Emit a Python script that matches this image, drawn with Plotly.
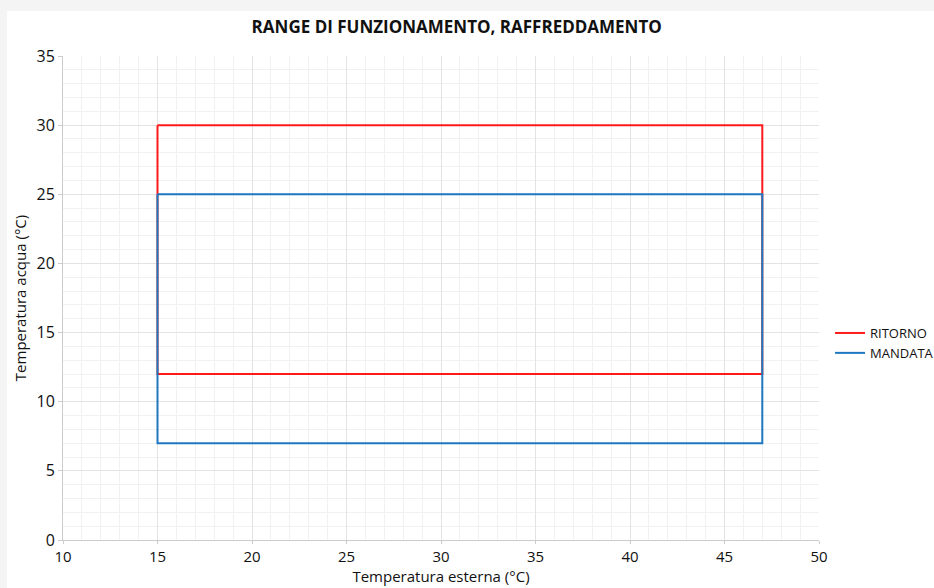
import plotly.graph_objects as go

# Data
ritorno_x = [15, 47, 47, 15, 15]
ritorno_y = [30, 30, 12, 12, 30]
mandata_x = [15, 47, 47, 15, 15]
mandata_y = [25, 25, 7, 7, 25]

title_text = "RANGE DI FUNZIONAMENTO, RAFFREDDAMENTO"
x_title = "Temperatura esterna (°C)"
y_title = "Temperatura acqua (°C)"

FONT = "Open Sans"

fig = go.Figure()
fig.add_trace(go.Scatter(x=ritorno_x, y=ritorno_y, mode="lines", name="RITORNO",
                         line=dict(color="#ff1a1a", width=2)))
fig.add_trace(go.Scatter(x=mandata_x, y=mandata_y, mode="lines", name="MANDATA",
                         line=dict(color="#1f77c0", width=2)))

axis_common = dict(
    showgrid=True, gridcolor="#e3e3e3", gridwidth=1,
    minor=dict(showgrid=True, gridcolor="#f1f1f1", gridwidth=1, dtick=1),
    showline=True, linecolor="#cccccc", linewidth=1,
    ticks="outside", ticklen=4, tickcolor="#cccccc",
    zeroline=False, automargin=False,
    tickfont=dict(family=FONT, size=16, color="#111111"),
)

fig.update_xaxes(range=[10, 50], dtick=5, tick0=10,
                 title=dict(text=x_title, font=dict(family=FONT, size=15, color="#111111"), standoff=5),
                 **axis_common)
fig.update_xaxes(ticklen=3, tickfont=dict(family=FONT, size=15, color="#111111"))
fig.update_yaxes(range=[0, 35], dtick=5, tick0=0,
                 title=dict(text=y_title, font=dict(family=FONT, size=15, color="#111111"), standoff=6),
                 **axis_common)

fig.add_shape(type="rect", xref="paper", yref="paper",
              x0=-0.0741, x1=1.3, y0=-0.3, y1=1.093,
              fillcolor="white", line=dict(width=0), layer="below")

fig.update_layout(
    width=934, height=588,
    margin=dict(l=63, r=115, t=56, b=48, autoexpand=False),
    paper_bgcolor="#f4f4f4",
    plot_bgcolor="white",
    title=dict(text="<b>" + title_text + "</b>", x=0.489, xanchor="center",
               y=1 - 27 / 588, yanchor="middle", xref="container", yref="container",
               font=dict(family=FONT, size=17, color="#111111")),
    legend=dict(x=1.0146, xanchor="left", y=0.407, yanchor="middle",
                font=dict(family=FONT, size=13, color="#111111"),
                itemwidth=30, tracegroupgap=0, bgcolor="rgba(0,0,0,0)"),
    showlegend=True,
)

fig.write_html("out.html", config={"displayModeBar": False},
               post_script="document.body.style.margin='0px';document.body.style.overflow='hidden';")
